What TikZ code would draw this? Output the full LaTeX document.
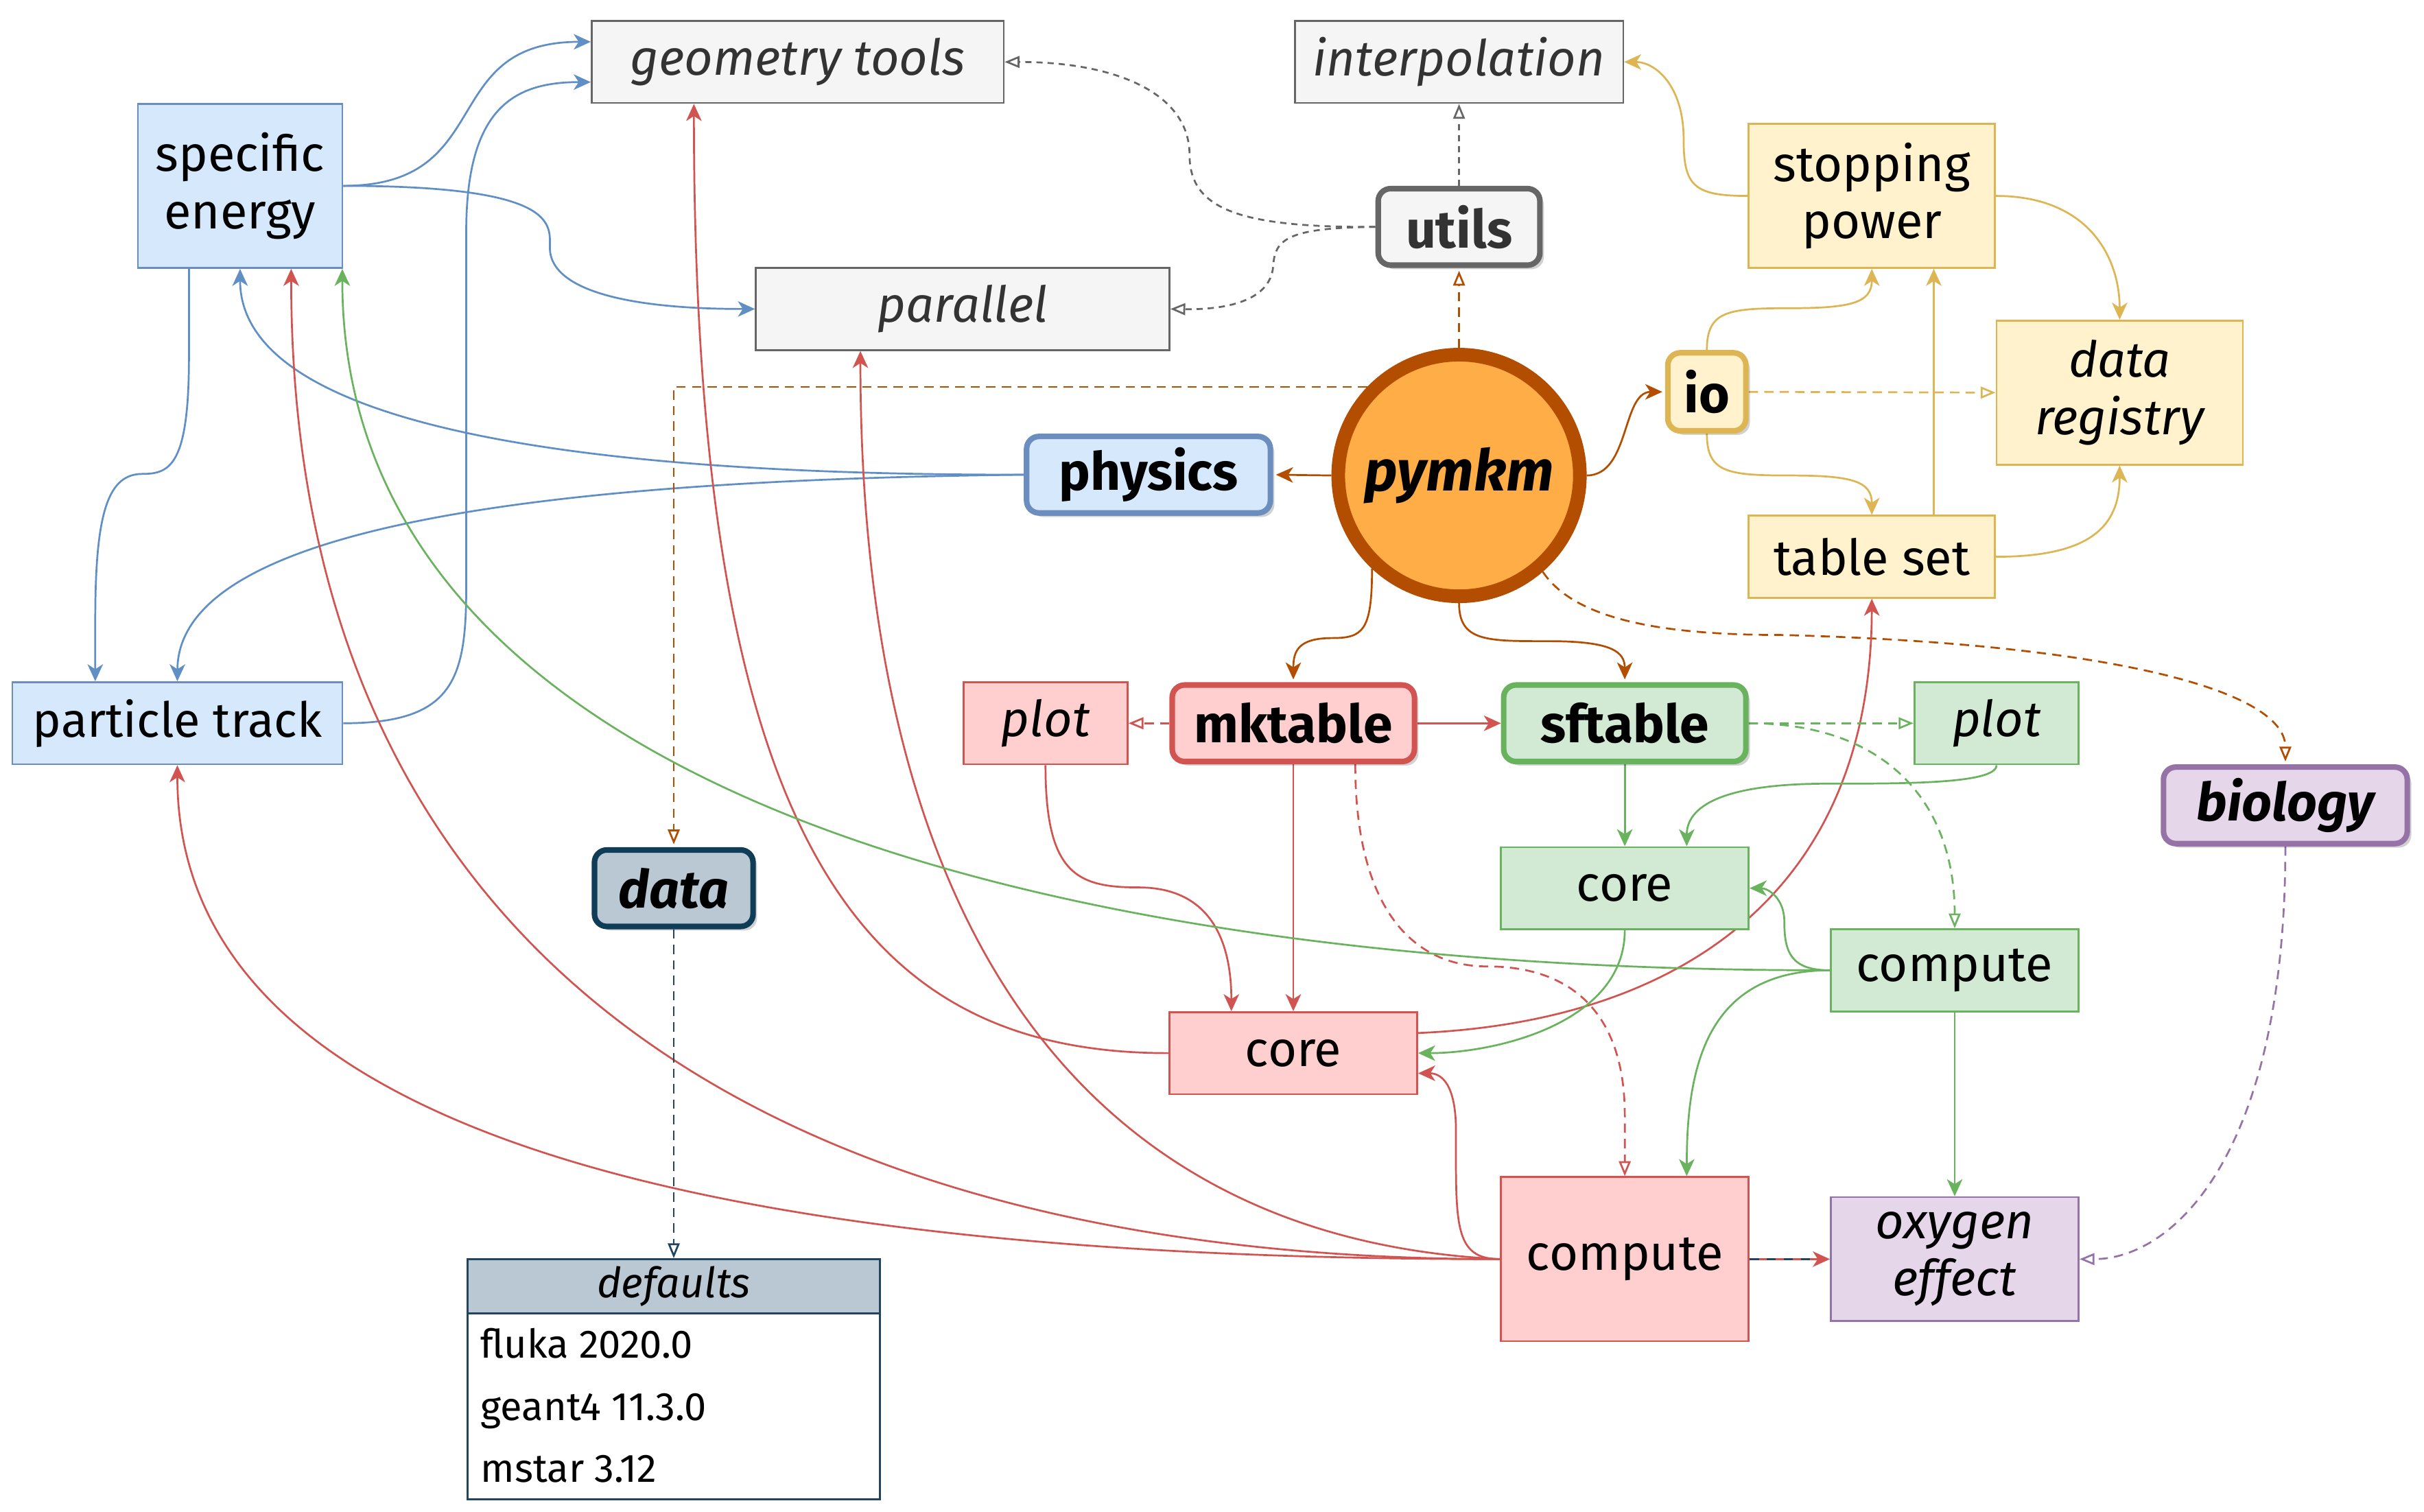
\documentclass[tikz,border=0pt]{standalone}
\usepackage{fontspec}
\setmainfont{Fira Sans}
\usetikzlibrary{arrows.meta,shadows,calc}
\pgfdeclarelayer{edges}
\pgfsetlayers{edges,main}
\definecolor{grF}{HTML}{F5F5F5}\definecolor{grS}{HTML}{666666}\definecolor{grT}{HTML}{333333}
\definecolor{blF}{HTML}{D6E8FC}\definecolor{blS}{HTML}{6C8EBF}\definecolor{blE}{HTML}{5F8FC4}
\definecolor{ylF}{HTML}{FFF2CC}\definecolor{ylS}{HTML}{DDB552}
\definecolor{rdF}{HTML}{FFCFCF}\definecolor{rdS}{HTML}{D25450}
\definecolor{gnF}{HTML}{D2E9D4}\definecolor{gnS}{HTML}{6AB35E}
\definecolor{puF}{HTML}{E6D6EA}\definecolor{puS}{HTML}{9673A6}
\definecolor{dbF}{HTML}{BAC8D3}\definecolor{dbS}{HTML}{0F3D57}\definecolor{dfS}{HTML}{23445D}
\definecolor{orF}{HTML}{FFAD47}\definecolor{orS}{HTML}{B34D00}
\newcommand{\fsz}{\fontsize{16}{18.5}\selectfont}
\newcommand{\fsb}{\fontsize{17}{20}\selectfont\bfseries}
\newcommand{\fsm}{\fontsize{12.8}{15}\selectfont}
\tikzset{
  basebox/.style={draw, rectangle, inner sep=0pt, align=center, font=\fsz, line width=0.6pt},
  grbox/.style={basebox, fill=grF, draw=grS, text=grT, font=\fsz\itshape},
  blbox/.style={basebox, fill=blF, draw=blS},
  ylbox/.style={basebox, fill=ylF, draw=ylS},
  rdbox/.style={basebox, fill=rdF, draw=rdS},
  gnbox/.style={basebox, fill=gnF, draw=gnS},
  pubox/.style={basebox, fill=puF, draw=puS},
  thick box/.style={line width=1.8pt, rounded corners=4pt, font=\fsb,
     drop shadow={shadow xshift=1.3pt, shadow yshift=-1.3pt, fill=black, opacity=0.18}},
  ed/.style={line width=0.6pt, -{Stealth[length=5.5pt,width=5pt,inset=1.6pt]}},
  dsh/.style={dash pattern=on 3pt off 2pt},
  opn/.style={-{Triangle[open,length=4.8pt,width=3.8pt]}},
  tk/.style={shorten >=0.9pt},
  rowtext/.style={anchor=base west, inner sep=0pt, font=\fsm},
  bE/.style={ed, draw=blE},
  gE/.style={ed, draw=grS, opn, dash pattern=on 2pt off 1.6pt},
  oE/.style={ed, draw=orS},
  yE/.style={ed, draw=ylS},
  rE/.style={ed, draw=rdS},
  gnE/.style={ed, draw=gnS},
  puE/.style={ed, draw=puS},
  dbE/.style={ed, draw=dfS},
}
\begin{document}
\begin{tikzpicture}[x=0.5pt,y=-0.5pt]
\useasboundingbox (0,0) rectangle (1565,975.86);
% gray nodes
\node[grbox, minimum width=133pt, minimum height=26.5pt] (geo) at (515,40) {geometry tools};
\node[grbox, minimum width=106pt, minimum height=26.5pt] (interp) at (942,40) {interpolation};
\node[grbox, minimum width=133.5pt, minimum height=26.5pt] (par) at (621.5,199.5) {parallel};
\node[basebox, fill=grF, draw=grS, text=grT, thick box, minimum width=52.2pt, minimum height=24.7pt] (utils) at (942,146.5) {utils};
% blue
\node[blbox, minimum width=66pt, minimum height=53pt] (se) at (155,120) {specific\\energy};
\node[blbox, minimum width=106.5pt, minimum height=26.5pt, font=\fontsize{15.6}{18}\selectfont] (pt) at (114.5,467) {particle track};
\node[blbox, thick box, minimum width=78.7pt, minimum height=24.7pt] (phys) at (741.5,306.5) {physics};
% yellow
\node[ylbox, minimum width=79.5pt, minimum height=46.5pt] (sp) at (1208.5,126.5) {stopping\\power};
\node[ylbox, font=\fsz\itshape, minimum width=79.5pt, minimum height=46.5pt] (dr) at (1368.5,253.5) {data\\registry};
\node[ylbox, minimum width=79.5pt, minimum height=26.5pt] (ts) at (1208.5,359.5) {table set};
\node[ylbox, thick box, minimum width=25.2pt, minimum height=25.2pt] (io) at (1102,253) {io};
% pymkm
\node[circle, fill=orF, draw=orS, line width=4.4pt, minimum size=78pt, inner sep=0pt,
      font=\fontsize{18.5}{21}\selectfont\bfseries\itshape,
      drop shadow={shadow xshift=1.3pt, shadow yshift=-1.3pt, fill=black, opacity=0.18}] (pymkm) at (942,307) {pymkm};
% red
\node[rdbox, font=\fsz\itshape, minimum width=53pt, minimum height=26.5pt] (plotr) at (675,467) {plot};
\node[rdbox, thick box, minimum width=78.2pt, minimum height=24.7pt] (mkt) at (835,467) {mktable};
\node[rdbox, minimum width=80pt, minimum height=26.5pt] (corer) at (835,680) {core};
\node[rdbox, minimum width=80pt, minimum height=53pt] (compr) at (1049,813) {compute};
% green
\node[gnbox, thick box, minimum width=78.2pt, minimum height=24.7pt] (sft) at (1049,467) {sftable};
\node[gnbox, font=\fsz\itshape, minimum width=53pt, minimum height=26.5pt] (plotg) at (1289,467) {plot};
\node[gnbox, minimum width=80pt, minimum height=26.5pt] (coreg) at (1049,573.5) {core};
\node[gnbox, minimum width=80pt, minimum height=26.5pt] (compg) at (1262,626.5) {compute};
% purple
\node[pubox, thick box, font=\fsb\itshape, minimum width=78.7pt, minimum height=24.7pt] (bio) at (1475.5,520) {biology};
\node[pubox, font=\fsz\itshape, minimum width=80pt, minimum height=40pt] (oxy) at (1262,813) {oxygen\\effect};
% data
\node[basebox, fill=dbF, draw=dbS, thick box, font=\fsb\itshape, minimum width=51.2pt, minimum height=24.7pt] (data) at (435,573.5) {data};
\node[basebox, fill=white, draw=dfS, minimum width=133pt, minimum height=60pt] (defb) at (435,908) {};
\node[basebox, fill=dbF, draw=dfS, font=\fontsize{13.5}{16}\selectfont\itshape, minimum width=133pt, minimum height=17.5pt] (defh) at (435,830.5) {defaults};
\node[rowtext] (r1) at (310,877) {fluka 2020.0};
\node[rowtext] (r2) at (310,917) {geant4 11.3.0};
\node[rowtext] (r3) at (310,957) {mstar 3.12};

\begin{pgfonlayer}{edges}
% blue
\draw[bE] (phys.west) .. controls (350,307) and (155,270) .. (se.south);
\draw[bE] (phys.west) .. controls (350,310) and (115,340) .. (pt.north);
\draw[bE] (se.east) .. controls +(100,0) and +(-100,0) .. ($(geo.west)+(0,-13)$);
\draw[bE] (pt.east) .. controls +(70,0) and +(0,60) .. (301,380) -- (301,150) .. controls +(0,-80) and +(-50,0) .. ($(geo.west)+(0,13)$);
\draw[bE] (se.east) .. controls +(140,0) and +(0,-15) .. (355,160) .. controls +(0,25) and +(-90,0) .. (par.west);
\draw[bE] ($(se.south)+(-33,0)$) -- (122,230) .. controls (122,300) and (110,306) .. (92,306) .. controls (70,306) and (61.5,330) .. (61.5,400) -- ($(pt.north)+(-53,0)$);
% gray
\draw[gE] (utils.west) .. controls (800,147) and (768,135) .. (768,100) .. controls (768,60) and (720,40) .. (geo.east);
\draw[gE] (utils.west) .. controls (830,147) and (823,155) .. (822,172) .. controls (820,195) and (790,200) .. (par.east);
\draw[gE] (utils.north) -- (interp.south);
% brown
\draw[oE, dsh, opn, tk] (pymkm.north) -- (utils.south);
\draw[oE, tk] (pymkm.west) -- (phys.east);
\draw[oE, tk] (pymkm.east) .. controls +(28,0) and +(-28,0) .. (io.west);
\draw[oE, tk] (pymkm.227) .. controls +(0,40) and +(20,0) .. (860,412) .. controls +(-22,0) and +(0,-20) .. (mkt.north);
\draw[oE, tk] (pymkm.south) .. controls +(0,25) and +(-40,0) .. (1000,414) .. controls +(40,0) and +(0,-20) .. (sft.north);
\draw[oE, dsh, opn, tk] (pymkm.136) -| (data.north);
\draw[oE, dsh, opn, tk] (pymkm.-49) .. controls +(20,30) and +(-80,0) .. (1150,410) .. controls +(200,5) and +(0,-50) .. (bio.north);
% yellow
\draw[yE] (io.north) .. controls +(0,-25) and +(-40,0) .. (1155,199) .. controls +(40,0) and +(0,22) .. (sp.south);
\draw[yE] (io.south) .. controls +(0,25) and +(-40,0) .. (1155,307) .. controls +(40,0) and +(0,-22) .. (ts.north);
\draw[yE, dsh, opn] (io.east) -- (dr.west);
\draw[yE] ($(ts.north)+(40,0)$) -- ($(sp.south)+(40,0)$);
\draw[yE] (ts.east) .. controls +(60,0) and +(0,40) .. (dr.south);
\draw[yE] (sp.east) .. controls +(60,0) and +(0,-40) .. (dr.north);
\draw[yE] (sp.west) .. controls +(-35,0) and +(0,30) .. (1087,90) .. controls +(0,-35) and +(20,0) .. (interp.east);
% red
\draw[rE, dsh, opn] (mkt.west) -- (plotr.east);
\draw[rE] (mkt.east) -- (sft.west);
\draw[rE] (mkt.south) -- (corer.north);
\draw[rE, dsh, opn] ($(mkt.south)+(40,0)$) .. controls +(0,90) and +(-50,0) .. (960,624) .. controls +(60,0) and +(0,-60) .. (1049,720) -- (compr.north);
\draw[rE] (plotr.south) .. controls +(0,70) and +(-40,0) .. (735,573) .. controls +(50,0) and +(0,-40) .. ($(corer.north)+(-40,0)$);
\draw[rE] (corer.west) .. controls (560,680) and (448,550) .. ($(geo.south)+(-67,0)$);
\draw[rE] ($(corer.east)+(0,-13)$) .. controls (1080,660) and (1208,580) .. (ts.south);
\draw[rE] (compr.west) .. controls (500,813) and (188,620) .. ($(se.south)+(33,0)$);
\draw[rE] (compr.west) .. controls (450,813) and (114.5,730) .. (pt.south);
\draw[rE] (compr.west) .. controls (700,800) and (555.5,600) .. ($(par.south)+(-66,0)$);
\draw[rE] (compr.west) .. controls +(-30,0) and +(0,60) .. (940,730) .. controls +(0,-30) and +(15,0) .. ($(corer.east)+(0,13)$);
\draw[rE] (compr.east) -- (oxy.west);
\draw[dfS, line width=0.6pt, dash pattern=on 3pt off 2.5pt] (compr.east) -- ($(oxy.west)+(-12,0)$);
% green
\draw[gnE, dsh, opn] (sft.east) -- (plotg.west);
\draw[gnE, dsh, opn] (sft.east) .. controls +(90,0) and +(0,-80) .. (compg.north);
\draw[gnE] (sft.south) -- (coreg.north);
\draw[gnE] (plotg.south) .. controls +(0,12) and +(50,0) .. (1180,506) .. controls +(-70,0) and +(0,-25) .. ($(coreg.north)+(40,0)$);
\draw[gnE] (compg.west) .. controls +(-25,0) and +(0,20) .. (1152,595) .. controls +(0,-15) and +(12,0) .. (coreg.east);
\draw[gnE] (compg.west) .. controls (650,627) and (221,500) .. ($(se.south)+(66,0)$);
\draw[gnE] (compg.west) .. controls +(-80,0) and +(0,-70) .. ($(compr.north)+(40,0)$);
\draw[gnE] (compg.south) -- (oxy.north);
\draw[gnE] (coreg.south) .. controls +(0,60) and +(50,0) .. (corer.east);
% purple
\draw[puE, dsh, opn] (bio.south) .. controls +(0,200) and +(60,0) .. (oxy.east);
% data
\draw[dbE, dsh, opn] (data.south) -- (defh.north);
\end{pgfonlayer}
\end{tikzpicture}
\end{document}
